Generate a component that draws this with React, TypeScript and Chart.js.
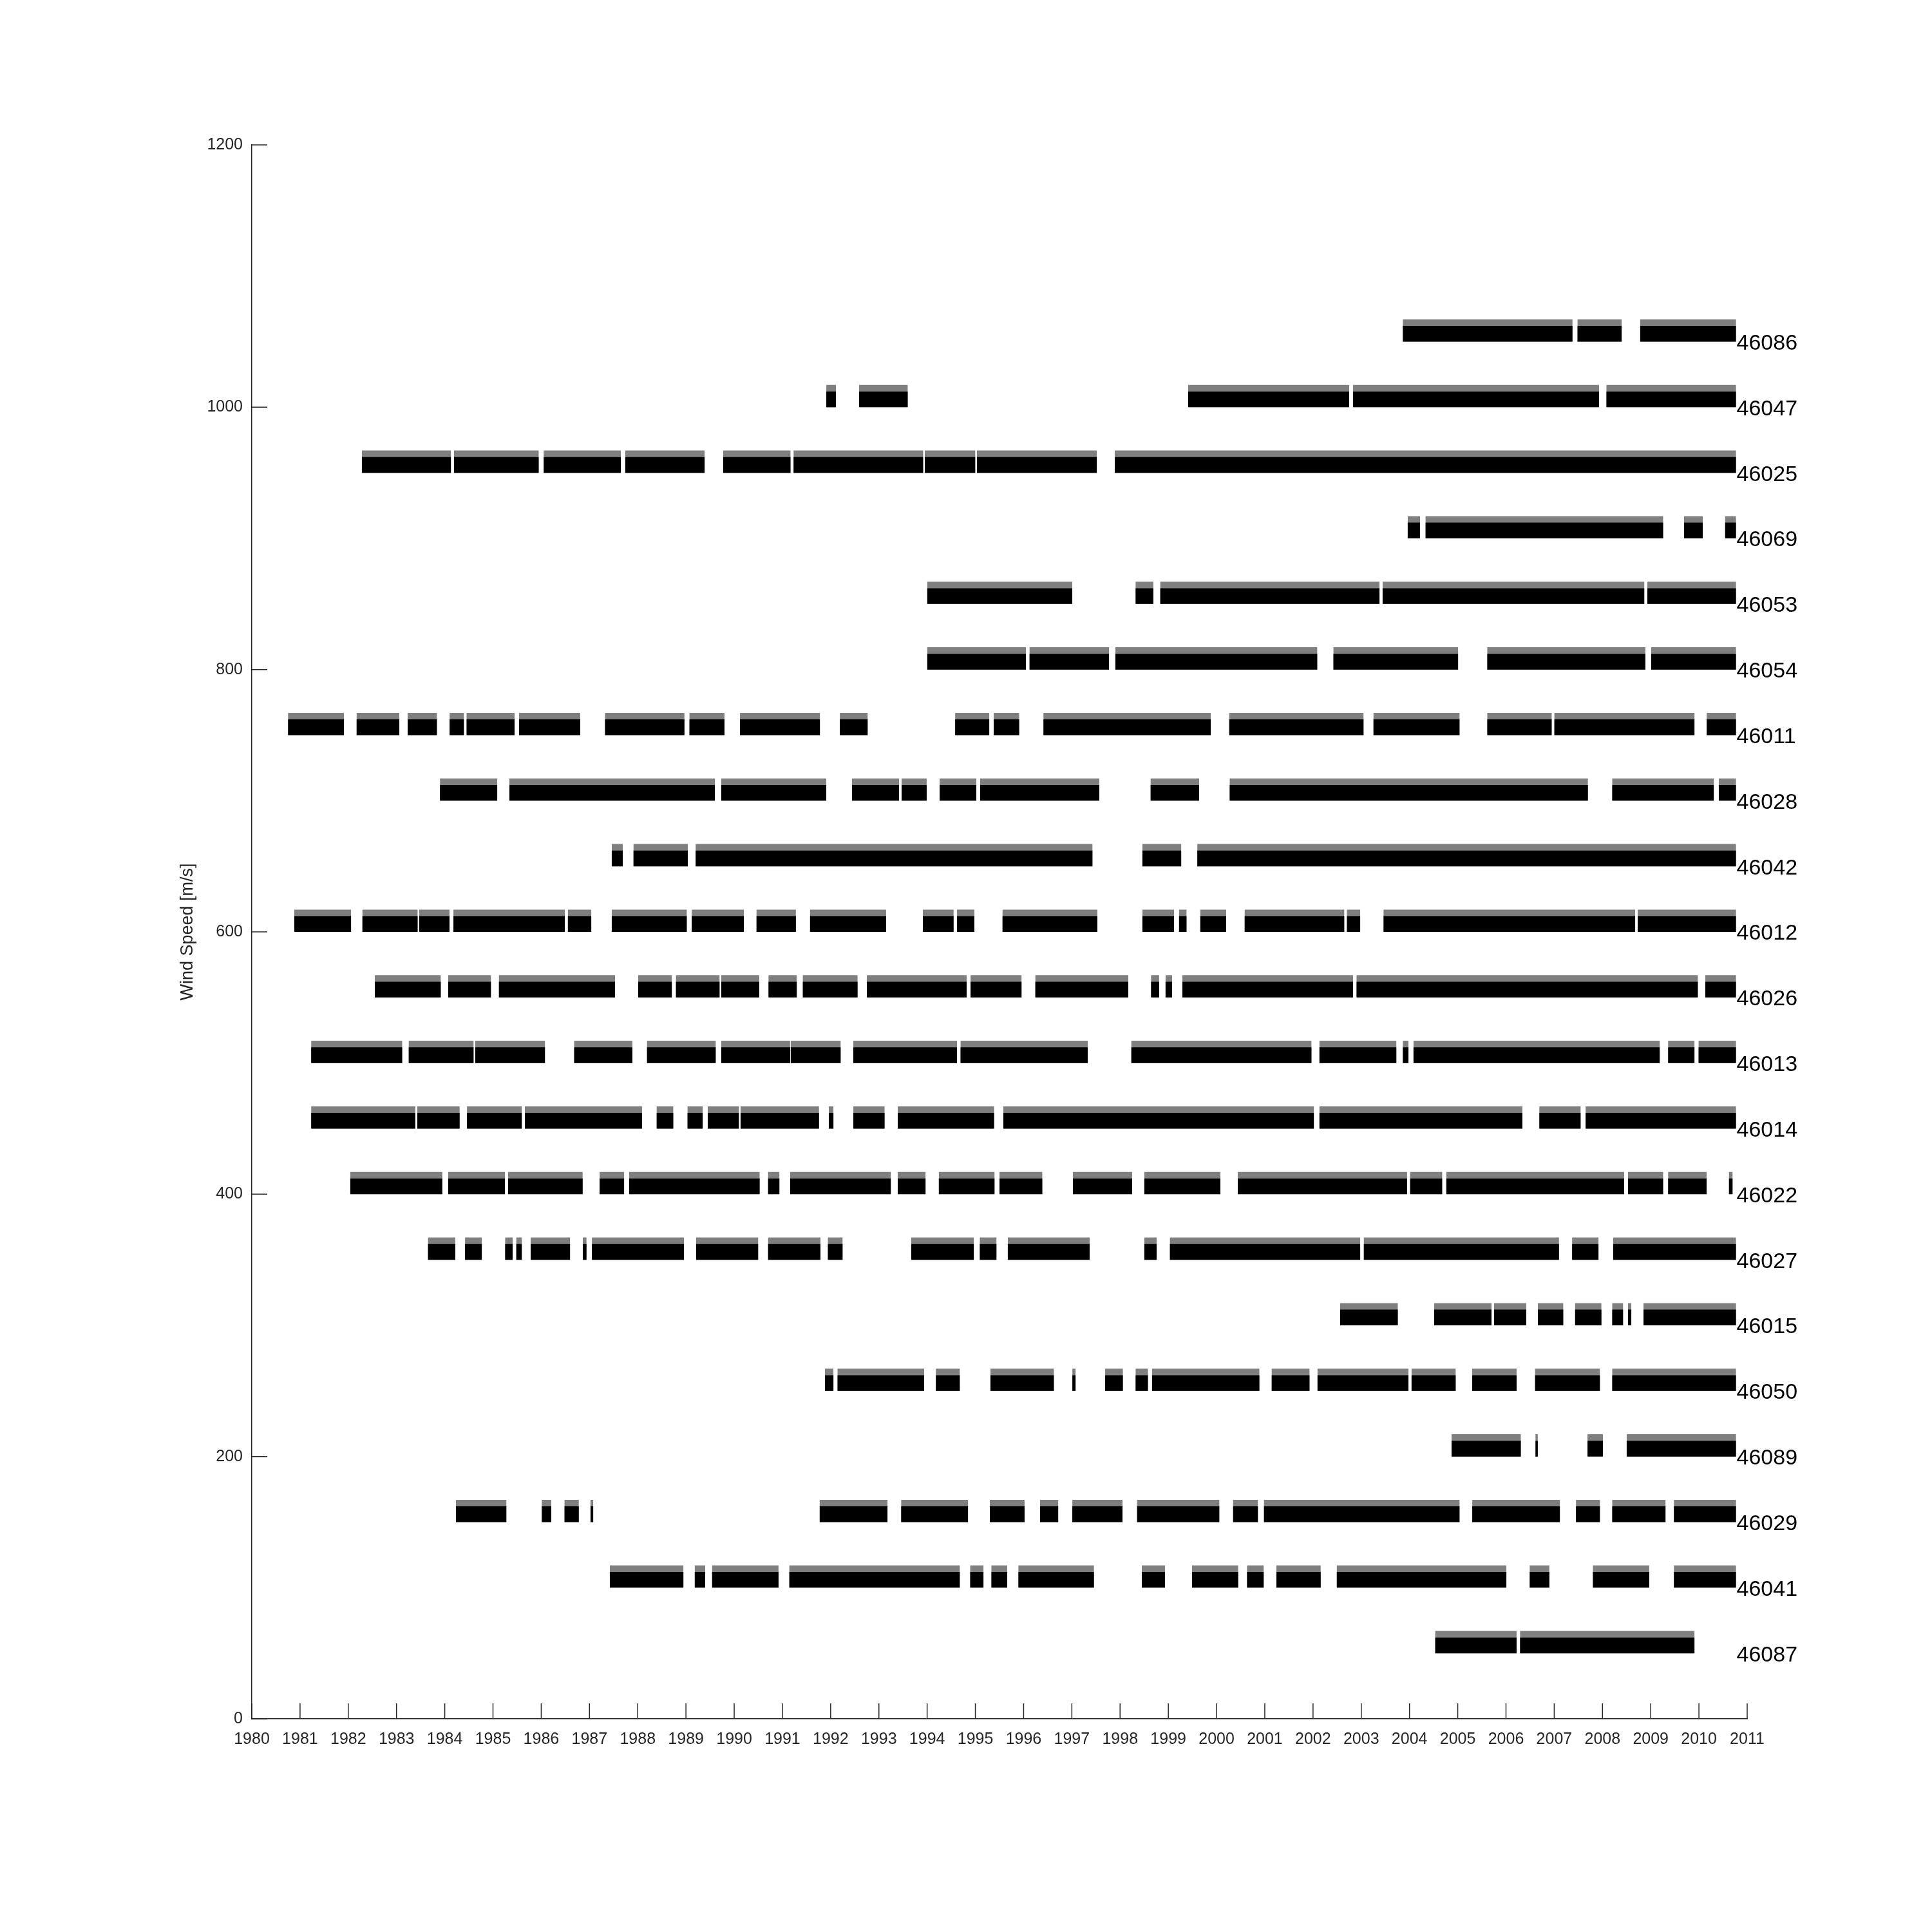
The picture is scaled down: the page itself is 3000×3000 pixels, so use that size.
import React, { useEffect, useRef } from "react";
import { Chart, registerables } from "chart.js";

Chart.register(...registerables);

// ---------------- data ----------------
const stationIds = [
  "46087", "46041", "46029", "46089", "46050", "46015", "46027", "46022", "46014", "46013", "46026",
  "46012", "46042", "46028", "46011", "46054", "46053", "46069", "46025", "46047", "46086",
];
const stationOffsets = [50, 100, 150, 200, 250, 300, 350, 400, 450, 500, 550, 600, 650, 700, 750, 800, 850, 900, 950, 1000, 1050];

// record periods [start year, end year]
const seg46087 = [[2004.53, 2006.22], [2006.29, 2009.91]];
const seg46041 = [[1987.42, 1988.95], [1989.18, 1989.4], [1989.54, 1990.92], [1991.14, 1994.68], [1994.89, 1995.17], [1995.33, 1995.66], [1995.89, 1997.46], [1998.45, 1998.93], [1999.49, 2000.45], [2000.63, 2000.98], [2001.24, 2002.16], [2002.49, 2006.01], [2006.49, 2006.9], [2007.8, 2008.97], [2009.48, 2010.77]];
const seg46029 = [[1984.23, 1985.28], [1986.01, 1986.21], [1986.48, 1986.78], [1987.02, 1987.08], [1991.77, 1993.18], [1993.46, 1994.85], [1995.3, 1996.02], [1996.34, 1996.72], [1997.01, 1998.05], [1998.35, 2000.06], [2000.34, 2000.86], [2000.98, 2005.04], [2005.3, 2007.12], [2007.45, 2007.95], [2008.2, 2009.31], [2009.48, 2010.77]];
const seg46089 = [[2004.87, 2006.31], [2006.61, 2006.66], [2007.69, 2008.01], [2008.5, 2010.77]];
const seg46050 = [[1991.88, 1992.06], [1992.14, 1993.94], [1994.18, 1994.68], [1995.31, 1996.63], [1997.01, 1997.08], [1997.69, 1998.06], [1998.32, 1998.58], [1998.66, 2000.89], [2001.14, 2001.93], [2002.09, 2003.98], [2004.04, 2004.96], [2005.3, 2006.22], [2006.6, 2007.95], [2008.2, 2010.77]];
const seg46015 = [[2002.56, 2003.76], [2004.51, 2005.7], [2005.75, 2006.42], [2006.66, 2007.19], [2007.43, 2007.98], [2008.2, 2008.43], [2008.53, 2008.6], [2008.85, 2010.77]];
const seg46027 = [[1983.65, 1984.22], [1984.42, 1984.77], [1985.25, 1985.41], [1985.48, 1985.6], [1985.78, 1986.6], [1986.86, 1986.94], [1987.05, 1988.96], [1989.21, 1990.5], [1990.7, 1991.79], [1991.94, 1992.25], [1993.67, 1994.97], [1995.09, 1995.44], [1995.67, 1997.37], [1998.5, 1998.76], [1999.03, 2002.98], [2003.05, 2007.1], [2007.37, 2007.92], [2008.22, 2010.77]];
const seg46022 = [[1982.04, 1983.95], [1984.07, 1985.25], [1985.31, 1986.86], [1987.21, 1987.72], [1987.82, 1990.53], [1990.7, 1990.94], [1991.16, 1993.25], [1993.39, 1993.97], [1994.24, 1995.4], [1995.5, 1996.39], [1997.02, 1998.25], [1998.5, 2000.08], [2000.44, 2003.95], [2004.01, 2004.68], [2004.76, 2008.45], [2008.53, 2009.26], [2009.36, 2010.16], [2010.62, 2010.7]];
const seg46014 = [[1981.23, 1983.39], [1983.43, 1984.31], [1984.46, 1985.6], [1985.66, 1988.09], [1988.39, 1988.74], [1989.03, 1989.35], [1989.45, 1990.1], [1990.13, 1991.76], [1991.96, 1992.06], [1992.47, 1993.12], [1993.39, 1995.39], [1995.58, 2002.02], [2002.13, 2006.34], [2006.69, 2007.55], [2007.65, 2010.77]];
const seg46013 = [[1981.23, 1983.12], [1983.25, 1984.6], [1984.63, 1986.08], [1986.68, 1987.89], [1988.19, 1989.62], [1989.73, 1991.16], [1991.17, 1992.21], [1992.47, 1994.62], [1994.69, 1997.33], [1998.23, 2001.97], [2002.13, 2003.73], [2003.86, 2003.98], [2004.08, 2009.19], [2009.36, 2009.91], [2009.99, 2010.77]];
const seg46026 = [[1982.55, 1983.92], [1984.07, 1984.96], [1985.12, 1987.53], [1988.01, 1988.71], [1988.79, 1989.7], [1989.73, 1990.52], [1990.71, 1991.3], [1991.42, 1992.56], [1992.75, 1994.82], [1994.9, 1995.96], [1996.24, 1998.17], [1998.64, 1998.81], [1998.94, 1999.08], [1999.29, 2002.83], [2002.9, 2009.98], [2010.13, 2010.77]];
const seg46012 = [[1980.88, 1982.06], [1982.29, 1983.44], [1983.47, 1984.1], [1984.18, 1986.49], [1986.55, 1987.04], [1987.46, 1989.02], [1989.12, 1990.2], [1990.46, 1991.28], [1991.57, 1993.15], [1993.91, 1994.55], [1994.62, 1994.98], [1995.56, 1997.53], [1998.46, 1999.12], [1999.22, 1999.38], [1999.66, 2000.2], [2000.58, 2002.65], [2002.7, 2002.98], [2003.46, 2008.68], [2008.73, 2010.77]];
const seg46042 = [[1987.46, 1987.69], [1987.91, 1989.04], [1989.2, 1997.43], [1998.46, 1999.27], [1999.6, 2010.77]];
const seg46028 = [[1983.9, 1985.09], [1985.34, 1989.6], [1989.73, 1991.91], [1992.44, 1993.42], [1993.47, 1993.99], [1994.26, 1995.02], [1995.1, 1997.57], [1998.63, 1999.64], [2000.27, 2007.7], [2008.2, 2010.31], [2010.41, 2010.77]];
const seg46011 = [[1980.75, 1981.91], [1982.17, 1983.06], [1983.23, 1983.84], [1984.1, 1984.4], [1984.45, 1985.45], [1985.54, 1986.81], [1987.32, 1988.97], [1989.07, 1989.8], [1990.12, 1991.78], [1992.19, 1992.77], [1994.58, 1995.29], [1995.38, 1995.91], [1996.41, 1999.88], [2000.26, 2003.05], [2003.25, 2005.04], [2005.61, 2006.95], [2007.0, 2009.91], [2010.16, 2010.77]];
const seg46054 = [[1994.0, 1996.05], [1996.12, 1997.77], [1997.9, 2002.09], [2002.42, 2005.01], [2005.61, 2008.89], [2009.01, 2010.77]];
const seg46053 = [[1994.0, 1997.01], [1998.32, 1998.69], [1998.83, 2003.38], [2003.44, 2008.87], [2008.93, 2010.77]];
const seg46069 = [[2003.96, 2004.22], [2004.33, 2009.26], [2009.69, 2010.08], [2010.54, 2010.77]];
const seg46025 = [[1982.28, 1984.13], [1984.19, 1985.95], [1986.05, 1987.65], [1987.74, 1989.39], [1989.77, 1991.17], [1991.23, 1993.92], [1993.95, 1995.0], [1995.03, 1997.52], [1997.89, 2010.77]];
const seg46047 = [[1991.91, 1992.11], [1992.59, 1993.6], [1999.41, 2002.75], [2002.83, 2007.93], [2008.08, 2010.77]];
const seg46086 = [[2003.86, 2007.38], [2007.48, 2008.4], [2008.78, 2010.77]];

const stationSegments = [
  seg46087, seg46041, seg46029, seg46089, seg46050, seg46015, seg46027, seg46022, seg46014, seg46013, seg46026,
  seg46012, seg46042, seg46028, seg46011, seg46054, seg46053, seg46069, seg46025, seg46047, seg46086,
];

// wind speed above each station's baseline [m/s]: dense core top, peak envelope top
const coreSpeed = 12;
const peakSpeed = 17;

const xMin = 1980;
const xMax = 2011;
const yMin = 0;
const yMax = 1200;
const labelYear = 2010.78;

// ---------------- styles ----------------
const FONT = "'Liberation Sans', Arial, Helvetica, sans-serif";
const AXIS_COLOR = "#262626";

function bandDataset(id: string, segs: number[][], lo: number, hi: number, color: string) {
  const data: any[] = [];
  segs.forEach(([s, e]) => {
    data.push({ x: s, y: lo }, { x: s, y: hi }, { x: e, y: hi }, { x: e, y: lo }, { x: e, y: null });
  });
  return {
    label: id,
    data,
    showLine: true,
    spanGaps: false,
    pointRadius: 0,
    borderWidth: 0,
    borderColor: "rgba(0,0,0,0)",
    backgroundColor: color,
    fill: { value: lo },
    tension: 0,
  };
}

function buildDatasets() {
  const sets: any[] = [];
  stationSegments.forEach((segs, i) => {
    const base = stationOffsets[i];
    sets.push(bandDataset(stationIds[i] + " peaks", segs, base, base + peakSpeed, "rgba(0,0,0,0.5)"));
    sets.push(bandDataset(stationIds[i], segs, base, base + coreSpeed, "#000000"));
  });
  return sets;
}

const inwardTicks = {
  id: "inwardTicks",
  afterDraw(chart: any) {
    const { ctx, chartArea, scales } = chart;
    const len = 24;
    ctx.save();
    ctx.strokeStyle = AXIS_COLOR;
    ctx.lineWidth = 1.5;
    ctx.beginPath();
    scales.x.ticks.forEach((t: any) => {
      const px = scales.x.getPixelForValue(t.value);
      ctx.moveTo(px, chartArea.bottom);
      ctx.lineTo(px, chartArea.bottom - len);
    });
    scales.y.ticks.forEach((t: any) => {
      const py = scales.y.getPixelForValue(t.value);
      ctx.moveTo(chartArea.left, py);
      ctx.lineTo(chartArea.left + len, py);
    });
    ctx.stroke();
    ctx.restore();
  },
};

const stationLabels = {
  id: "stationLabels",
  afterDatasetsDraw(chart: any) {
    const { ctx, scales } = chart;
    ctx.save();
    ctx.font = `34px ${FONT}`;
    ctx.fillStyle = "#000000";
    ctx.textAlign = "left";
    ctx.textBaseline = "middle";
    stationIds.forEach((id, i) => {
      ctx.fillText(id, scales.x.getPixelForValue(labelYear), scales.y.getPixelForValue(stationOffsets[i]) + 3);
    });
    ctx.restore();
  },
};

export default function App() {
  const ref = useRef<HTMLCanvasElement | null>(null);
  useEffect(() => {
    if (!ref.current) return;
    const chart = new Chart(ref.current, {
      type: "scatter",
      data: { datasets: buildDatasets() },
      options: {
        animation: false,
        responsive: false,
        devicePixelRatio: 1,
        layout: { padding: { left: 275, top: 225, right: 287, bottom: 0 } },
        plugins: { legend: { display: false }, tooltip: { enabled: false } },
        scales: {
          x: {
            type: "linear",
            min: xMin,
            max: xMax,
            grid: { display: false, drawTicks: false },
            border: { display: true, color: AXIS_COLOR, width: 1.5 },
            ticks: {
              stepSize: 1,
              autoSkip: false,
              maxRotation: 0,
              padding: 17,
              color: AXIS_COLOR,
              font: { size: 25, family: FONT },
              callback: (v: any) => String(v),
            },
            afterFit: (s: any) => {
              s.height = 331;
            },
          },
          y: {
            type: "linear",
            min: yMin,
            max: yMax,
            grid: { display: false, drawTicks: false },
            border: { display: true, color: AXIS_COLOR, width: 1.5 },
            ticks: {
              stepSize: 200,
              padding: 14,
              color: AXIS_COLOR,
              font: { size: 25, family: FONT },
              callback: (v: any) => String(v),
            },
            title: {
              display: true,
              text: "Wind Speed [m/s]",
              color: AXIS_COLOR,
              font: { size: 27, family: FONT },
              padding: { top: 0, bottom: 0 },
            },
            afterFit: (s: any) => {
              s.width = 116;
            },
          },
        },
      },
      plugins: [inwardTicks, stationLabels],
    });
    return () => chart.destroy();
  }, []);
  return (
    <div style={{ position: "absolute", left: 0, top: 0, width: 3000, height: 3000, background: "#fff" }}>
      <canvas ref={ref} width={3000} height={3000} style={{ width: 3000, height: 3000, display: "block" }} />
    </div>
  );
}
